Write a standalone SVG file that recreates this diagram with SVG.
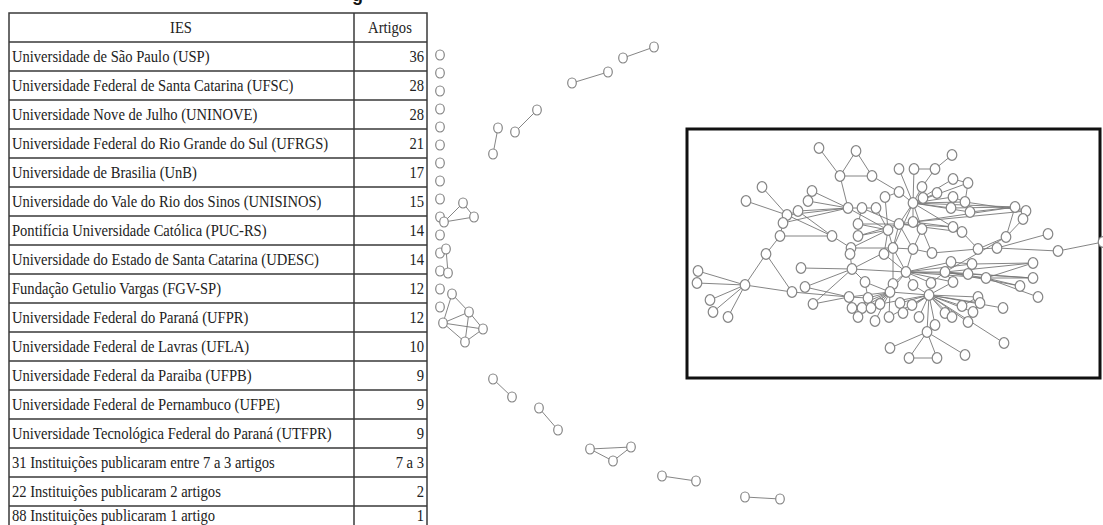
<svg xmlns="http://www.w3.org/2000/svg" xmlns:xlink="http://www.w3.org/1999/xlink" width="1103" height="525" viewBox="0 0 1103 525">
<style>
.t{font-family:"Liberation Serif","Times New Roman",serif;font-size:16.2px;fill:#222}
.r{text-anchor:end}
.c{text-anchor:middle}
.tl{stroke:#3a3a3a;stroke-width:1.5;fill:none}
.e line{stroke:#777;stroke-width:0.9}
.ttl{font-family:"Liberation Sans",Arial,sans-serif;font-weight:bold;font-size:18px;fill:#111}
</style>
<defs>
<ellipse id="nd" cx="0" cy="0" rx="4.8" ry="5.3" fill="#fff" stroke="#858585" stroke-width="1.2"/>
<ellipse id="ns" cx="0" cy="0" rx="4.3" ry="5" fill="#fff" stroke="#858585" stroke-width="1.2"/>
</defs>
<rect width="1103" height="525" fill="#fff"/>
<g id="title"><text class="ttl" x="352" y="0.5">g</text></g>
<g id="table">
<rect class="tl" x="9" y="13" width="418" height="530"/>
<line class="tl" x1="354" y1="13" x2="354" y2="525"/>
<path class="tl" d="M9 42H427M9 71H427M9 100H427M9 129H427M9 158H427M9 187H427M9 216H427M9 245H427M9 274H427M9 303H427M9 332H427M9 361H427M9 390H427M9 419H427M9 448H427M9 477H427M9 506H427"/>
<g transform="scale(0.9,1)">
<text class="t c" x="201.1" y="33">IES</text><text class="t c" x="433.3" y="33">Artigos</text>
<text class="t" x="13.3" y="62">Universidade de São Paulo (USP)</text><text class="t r" x="471.1" y="62">36</text>
<text class="t" x="13.3" y="91">Universidade Federal de Santa Catarina (UFSC)</text><text class="t r" x="471.1" y="91">28</text>
<text class="t" x="13.3" y="120">Universidade Nove de Julho (UNINOVE)</text><text class="t r" x="471.1" y="120">28</text>
<text class="t" x="13.3" y="149">Universidade Federal do Rio Grande do Sul (UFRGS)</text><text class="t r" x="471.1" y="149">21</text>
<text class="t" x="13.3" y="178">Universidade de Brasilia (UnB)</text><text class="t r" x="471.1" y="178">17</text>
<text class="t" x="13.3" y="207">Universidade do Vale do Rio dos Sinos (UNISINOS)</text><text class="t r" x="471.1" y="207">15</text>
<text class="t" x="13.3" y="236">Pontifícia Universidade Católica (PUC-RS)</text><text class="t r" x="471.1" y="236">14</text>
<text class="t" x="13.3" y="265">Universidade do Estado de Santa Catarina (UDESC)</text><text class="t r" x="471.1" y="265">14</text>
<text class="t" x="13.3" y="294">Fundação Getulio Vargas (FGV-SP)</text><text class="t r" x="471.1" y="294">12</text>
<text class="t" x="13.3" y="323">Universidade Federal do Paraná (UFPR)</text><text class="t r" x="471.1" y="323">12</text>
<text class="t" x="13.3" y="352">Universidade Federal de Lavras (UFLA)</text><text class="t r" x="471.1" y="352">10</text>
<text class="t" x="13.3" y="381">Universidade Federal da Paraiba (UFPB)</text><text class="t r" x="471.1" y="381">9</text>
<text class="t" x="13.3" y="410">Universidade Federal de Pernambuco (UFPE)</text><text class="t r" x="471.1" y="410">9</text>
<text class="t" x="13.3" y="439">Universidade Tecnológica Federal do Paraná (UTFPR)</text><text class="t r" x="471.1" y="439">9</text>
<text class="t" x="13.3" y="468">31 Instituições publicaram entre 7 a 3 artigos</text><text class="t r" x="471.1" y="468">7 a 3</text>
<text class="t" x="13.3" y="497">22 Instituições publicaram 2 artigos</text><text class="t r" x="471.1" y="497">2</text>
<text class="t" x="13.3" y="521">88 Instituições publicaram 1 artigo</text><text class="t r" x="471.1" y="521">1</text>
</g>
</g>
<g id="frame"><rect x="687" y="129" width="413" height="249" fill="none" stroke="#111" stroke-width="3"/></g>
<g id="connectors" class="e">
<line x1="498" y1="128" x2="493" y2="154"/><line x1="515" y1="132" x2="537" y2="110"/><line x1="572" y1="83" x2="608" y2="72"/><line x1="623" y1="58" x2="654" y2="47"/>
<line x1="463" y1="203" x2="444" y2="222"/><line x1="474" y1="217" x2="444" y2="222"/><line x1="463" y1="203" x2="474" y2="217"/>
<line x1="446" y1="249" x2="448" y2="273"/>
<line x1="452" y1="294" x2="443" y2="323"/><line x1="452" y1="294" x2="469" y2="312"/><line x1="443" y1="323" x2="469" y2="312"/><line x1="443" y1="323" x2="483" y2="329"/><line x1="443" y1="323" x2="465" y2="342"/><line x1="469" y1="312" x2="465" y2="342"/><line x1="469" y1="312" x2="483" y2="329"/><line x1="465" y1="342" x2="483" y2="329"/>
<line x1="493" y1="379" x2="512" y2="397"/><line x1="539" y1="408" x2="558" y2="430"/>
<line x1="590" y1="449" x2="631" y2="447"/><line x1="590" y1="449" x2="613" y2="461"/><line x1="613" y1="461" x2="631" y2="447"/>
<line x1="662" y1="476" x2="696" y2="481"/><line x1="745" y1="497" x2="780" y2="499"/>
<line x1="745" y1="285" x2="698" y2="271"/><line x1="745" y1="285" x2="697" y2="283"/><line x1="745" y1="285" x2="710" y2="300"/><line x1="745" y1="285" x2="713" y2="312"/><line x1="745" y1="285" x2="728" y2="317"/><line x1="745" y1="285" x2="766" y2="254"/><line x1="745" y1="285" x2="792" y2="292"/><line x1="766" y1="254" x2="780" y2="236"/><line x1="766" y1="254" x2="792" y2="292"/><line x1="792" y1="292" x2="849" y2="297"/>
<line x1="780" y1="236" x2="783" y2="223"/><line x1="783" y1="223" x2="787" y2="215"/><line x1="787" y1="215" x2="798" y2="211"/><line x1="780" y1="236" x2="832" y2="236"/><line x1="787" y1="215" x2="832" y2="236"/><line x1="798" y1="211" x2="832" y2="236"/><line x1="787" y1="215" x2="762" y2="187"/><line x1="787" y1="215" x2="746" y2="201"/><line x1="787" y1="215" x2="848" y2="208"/><line x1="798" y1="211" x2="848" y2="208"/><line x1="808" y1="201" x2="848" y2="208"/><line x1="812" y1="191" x2="848" y2="208"/><line x1="812" y1="191" x2="808" y2="201"/><line x1="783" y1="223" x2="848" y2="208"/>
<line x1="848" y1="208" x2="840" y2="176"/><line x1="840" y1="176" x2="819" y2="148"/><line x1="840" y1="176" x2="856" y2="151"/><line x1="840" y1="176" x2="872" y2="176"/><line x1="856" y1="151" x2="872" y2="176"/><line x1="872" y1="176" x2="899" y2="192"/><line x1="848" y1="208" x2="862" y2="208"/><line x1="862" y1="208" x2="876" y2="208"/><line x1="876" y1="208" x2="888" y2="230"/><line x1="848" y1="208" x2="888" y2="230"/><line x1="885" y1="197" x2="888" y2="230"/><line x1="885" y1="197" x2="899" y2="192"/><line x1="832" y1="236" x2="851" y2="248"/>
<line x1="801" y1="268" x2="852" y2="269"/><line x1="852" y1="269" x2="850" y2="254"/><line x1="852" y1="269" x2="893" y2="248"/><line x1="852" y1="269" x2="805" y2="287"/><line x1="852" y1="269" x2="813" y2="304"/><line x1="852" y1="269" x2="906" y2="272"/><line x1="852" y1="269" x2="865" y2="282"/><line x1="813" y1="304" x2="849" y2="297"/><line x1="805" y1="287" x2="849" y2="297"/>
<line x1="913" y1="203" x2="899" y2="169"/><line x1="913" y1="203" x2="914" y2="169"/><line x1="913" y1="203" x2="913" y2="222"/><line x1="913" y1="203" x2="922" y2="187"/><line x1="913" y1="203" x2="923" y2="198"/><line x1="913" y1="203" x2="937" y2="193"/><line x1="913" y1="203" x2="953" y2="179"/><line x1="913" y1="203" x2="968" y2="183"/><line x1="913" y1="203" x2="953" y2="197"/><line x1="913" y1="203" x2="965" y2="202"/><line x1="913" y1="203" x2="951" y2="208"/><line x1="913" y1="203" x2="970" y2="212"/><line x1="913" y1="203" x2="899" y2="224"/><line x1="913" y1="203" x2="922" y2="229"/><line x1="913" y1="203" x2="953" y2="227"/><line x1="913" y1="203" x2="1015" y2="207"/><line x1="913" y1="203" x2="893" y2="248"/><line x1="913" y1="203" x2="899" y2="192"/>
<line x1="899" y1="224" x2="858" y2="224"/><line x1="899" y1="224" x2="858" y2="236"/><line x1="899" y1="224" x2="888" y2="230"/><line x1="899" y1="224" x2="913" y2="222"/><line x1="899" y1="224" x2="893" y2="248"/><line x1="899" y1="224" x2="913" y2="249"/><line x1="899" y1="224" x2="953" y2="227"/><line x1="899" y1="224" x2="962" y2="232"/><line x1="899" y1="224" x2="862" y2="208"/>
<line x1="913" y1="222" x2="922" y2="229"/><line x1="913" y1="222" x2="953" y2="227"/><line x1="913" y1="222" x2="1015" y2="207"/><line x1="913" y1="222" x2="1026" y2="211"/><line x1="922" y1="229" x2="913" y2="249"/><line x1="922" y1="229" x2="932" y2="253"/>
<line x1="888" y1="230" x2="858" y2="224"/><line x1="888" y1="230" x2="858" y2="236"/><line x1="888" y1="230" x2="893" y2="248"/><line x1="888" y1="230" x2="884" y2="254"/><line x1="888" y1="230" x2="851" y2="248"/><line x1="858" y1="224" x2="862" y2="208"/>
<line x1="893" y1="248" x2="851" y2="248"/><line x1="893" y1="248" x2="884" y2="254"/><line x1="893" y1="248" x2="913" y2="249"/><line x1="893" y1="248" x2="906" y2="272"/><line x1="893" y1="248" x2="893" y2="284"/><line x1="913" y1="249" x2="932" y2="253"/><line x1="913" y1="249" x2="906" y2="272"/>
<line x1="932" y1="253" x2="978" y2="249"/><line x1="978" y1="249" x2="997" y2="248"/><line x1="997" y1="248" x2="1058" y2="251"/><line x1="1058" y1="251" x2="1103" y2="242"/><line x1="997" y1="248" x2="1048" y2="234"/><line x1="1006" y1="237" x2="978" y2="249"/><line x1="1006" y1="237" x2="1015" y2="207"/><line x1="1006" y1="237" x2="1023" y2="219"/><line x1="1023" y1="219" x2="1026" y2="211"/><line x1="1015" y1="207" x2="1026" y2="211"/><line x1="970" y1="212" x2="1015" y2="207"/><line x1="951" y1="208" x2="1015" y2="207"/><line x1="965" y1="202" x2="1026" y2="211"/><line x1="1006" y1="237" x2="945" y2="272"/>
<line x1="952" y1="155" x2="935" y2="169"/><line x1="935" y1="169" x2="922" y2="187"/><line x1="914" y1="169" x2="935" y2="169"/><line x1="922" y1="187" x2="923" y2="198"/><line x1="953" y1="179" x2="968" y2="183"/><line x1="968" y1="183" x2="965" y2="202"/><line x1="953" y1="197" x2="965" y2="202"/><line x1="953" y1="227" x2="962" y2="232"/><line x1="962" y1="232" x2="978" y2="249"/>
<line x1="906" y1="272" x2="945" y2="272"/><line x1="906" y1="272" x2="951" y2="262"/><line x1="906" y1="272" x2="972" y2="264"/><line x1="906" y1="272" x2="968" y2="274"/><line x1="906" y1="272" x2="986" y2="278"/><line x1="906" y1="272" x2="893" y2="284"/><line x1="906" y1="272" x2="913" y2="285"/><line x1="906" y1="272" x2="931" y2="283"/><line x1="906" y1="272" x2="890" y2="292"/><line x1="906" y1="272" x2="953" y2="282"/><line x1="906" y1="272" x2="884" y2="254"/>
<line x1="945" y1="272" x2="931" y2="283"/><line x1="945" y1="272" x2="953" y2="282"/><line x1="945" y1="272" x2="986" y2="278"/><line x1="945" y1="272" x2="1033" y2="263"/><line x1="945" y1="272" x2="1033" y2="278"/><line x1="945" y1="272" x2="1020" y2="286"/><line x1="951" y1="262" x2="972" y2="264"/><line x1="986" y1="278" x2="1033" y2="263"/><line x1="986" y1="278" x2="1033" y2="278"/><line x1="986" y1="278" x2="1020" y2="286"/><line x1="986" y1="278" x2="1038" y2="297"/><line x1="972" y1="264" x2="1033" y2="263"/><line x1="968" y1="274" x2="1033" y2="278"/>
<line x1="929" y1="295" x2="913" y2="285"/><line x1="929" y1="295" x2="931" y2="283"/><line x1="929" y1="295" x2="953" y2="282"/><line x1="929" y1="295" x2="890" y2="292"/><line x1="929" y1="295" x2="900" y2="303"/><line x1="929" y1="295" x2="912" y2="305"/><line x1="929" y1="295" x2="903" y2="313"/><line x1="929" y1="295" x2="919" y2="317"/><line x1="929" y1="295" x2="935" y2="325"/><line x1="929" y1="295" x2="945" y2="313"/><line x1="929" y1="295" x2="952" y2="317"/><line x1="929" y1="295" x2="962" y2="306"/><line x1="929" y1="295" x2="978" y2="297"/><line x1="929" y1="295" x2="980" y2="303"/><line x1="929" y1="295" x2="973" y2="312"/><line x1="929" y1="295" x2="968" y2="322"/><line x1="929" y1="295" x2="1003" y2="308"/><line x1="929" y1="295" x2="927" y2="332"/><line x1="929" y1="295" x2="1004" y2="343"/><line x1="929" y1="295" x2="889" y2="317"/><line x1="929" y1="295" x2="880" y2="304"/>
<line x1="890" y1="292" x2="865" y2="282"/><line x1="890" y1="292" x2="868" y2="298"/><line x1="890" y1="292" x2="849" y2="297"/><line x1="890" y1="292" x2="852" y2="308"/><line x1="890" y1="292" x2="862" y2="308"/><line x1="890" y1="292" x2="871" y2="308"/><line x1="890" y1="292" x2="880" y2="304"/><line x1="890" y1="292" x2="858" y2="317"/><line x1="890" y1="292" x2="875" y2="321"/><line x1="890" y1="292" x2="889" y2="317"/><line x1="890" y1="292" x2="893" y2="284"/>
<line x1="865" y1="282" x2="868" y2="298"/><line x1="849" y1="297" x2="868" y2="298"/><line x1="849" y1="297" x2="852" y2="308"/><line x1="868" y1="298" x2="862" y2="308"/>
<line x1="927" y1="332" x2="890" y2="348"/><line x1="927" y1="332" x2="909" y2="358"/><line x1="927" y1="332" x2="937" y2="358"/><line x1="909" y1="358" x2="937" y2="358"/><line x1="927" y1="332" x2="965" y2="355"/>
<line x1="962" y1="306" x2="978" y2="297"/><line x1="978" y1="297" x2="980" y2="303"/><line x1="980" y1="303" x2="973" y2="312"/>
</g>
<g id="nodes-isolated">
<g id="i1"><use href="#ns" x="440" y="55"/></g><g id="i2"><use href="#ns" x="440" y="73"/></g><g id="i3"><use href="#ns" x="440" y="91"/></g><g id="i4"><use href="#ns" x="440" y="109"/></g><g id="i5"><use href="#ns" x="440" y="127"/></g><g id="i6"><use href="#ns" x="440" y="145"/></g><g id="i7"><use href="#ns" x="440" y="163"/></g><g id="i8"><use href="#ns" x="440" y="181"/></g><g id="i9"><use href="#ns" x="440" y="199"/></g><g id="i10"><use href="#ns" x="440" y="217"/></g><g id="i11"><use href="#ns" x="440" y="235"/></g><g id="i12"><use href="#ns" x="440" y="253"/></g><g id="i13"><use href="#ns" x="440" y="271"/></g><g id="i14"><use href="#ns" x="440" y="289"/></g><g id="i15"><use href="#ns" x="440" y="307"/></g>
</g>
<g id="nodes-small">
<g id="s1"><use href="#ns" x="498" y="128"/></g><g id="s2"><use href="#ns" x="493" y="154"/></g><g id="s3"><use href="#ns" x="515" y="132"/></g><g id="s4"><use href="#ns" x="537" y="110"/></g><g id="s5"><use href="#ns" x="572" y="83"/></g><g id="s6"><use href="#ns" x="608" y="72"/></g><g id="s7"><use href="#ns" x="623" y="58"/></g><g id="s8"><use href="#ns" x="654" y="47"/></g>
<g id="s9"><use href="#ns" x="463" y="203"/></g><g id="s10"><use href="#ns" x="474" y="217"/></g><g id="s11"><use href="#ns" x="444" y="222"/></g><g id="s12"><use href="#ns" x="446" y="249"/></g><g id="s13"><use href="#ns" x="448" y="273"/></g>
<g id="s14"><use href="#ns" x="452" y="294"/></g><g id="s15"><use href="#ns" x="469" y="312"/></g><g id="s16"><use href="#ns" x="443" y="323"/></g><g id="s17"><use href="#ns" x="483" y="329"/></g><g id="s18"><use href="#ns" x="465" y="342"/></g>
<g id="s19"><use href="#ns" x="493" y="379"/></g><g id="s20"><use href="#ns" x="512" y="397"/></g><g id="s21"><use href="#ns" x="539" y="408"/></g><g id="s22"><use href="#ns" x="558" y="430"/></g><g id="s23"><use href="#ns" x="590" y="449"/></g><g id="s24"><use href="#ns" x="631" y="447"/></g><g id="s25"><use href="#ns" x="613" y="461"/></g><g id="s26"><use href="#ns" x="662" y="476"/></g><g id="s27"><use href="#ns" x="696" y="481"/></g><g id="s28"><use href="#ns" x="745" y="497"/></g><g id="s29"><use href="#ns" x="780" y="499"/></g>
</g>
<g id="nodes-main">
<g id="n1"><use href="#nd" x="819" y="148"/></g><g id="n2"><use href="#nd" x="856" y="151"/></g><g id="n3"><use href="#nd" x="840" y="176"/></g><g id="n4"><use href="#nd" x="872" y="176"/></g><g id="n5"><use href="#nd" x="952" y="155"/></g><g id="n6"><use href="#nd" x="899" y="169"/></g><g id="n7"><use href="#nd" x="914" y="169"/></g><g id="n8"><use href="#nd" x="935" y="169"/></g><g id="n9"><use href="#nd" x="762" y="187"/></g><g id="n10"><use href="#nd" x="746" y="201"/></g>
<g id="n11"><use href="#nd" x="812" y="191"/></g><g id="n12"><use href="#nd" x="808" y="201"/></g><g id="n13"><use href="#nd" x="798" y="211"/></g><g id="n14"><use href="#nd" x="787" y="215"/></g><g id="n15"><use href="#nd" x="783" y="223"/></g><g id="n16"><use href="#nd" x="780" y="236"/></g><g id="n17"><use href="#nd" x="848" y="208"/></g><g id="n18"><use href="#nd" x="862" y="208"/></g><g id="n19"><use href="#nd" x="876" y="208"/></g><g id="n20"><use href="#nd" x="885" y="197"/></g>
<g id="n21"><use href="#nd" x="899" y="192"/></g><g id="n22"><use href="#nd" x="922" y="187"/></g><g id="n23"><use href="#nd" x="923" y="198"/></g><g id="n24"><use href="#nd" x="937" y="193"/></g><g id="n25"><use href="#nd" x="953" y="179"/></g><g id="n26"><use href="#nd" x="968" y="183"/></g><g id="n27"><use href="#nd" x="953" y="197"/></g><g id="n28"><use href="#nd" x="965" y="202"/></g><g id="n29"><use href="#nd" x="913" y="203"/></g><g id="n30"><use href="#nd" x="951" y="208"/></g>
<g id="n31"><use href="#nd" x="970" y="212"/></g><g id="n32"><use href="#nd" x="1015" y="207"/></g><g id="n33"><use href="#nd" x="1026" y="211"/></g><g id="n34"><use href="#nd" x="1023" y="219"/></g><g id="n35"><use href="#nd" x="858" y="224"/></g><g id="n36"><use href="#nd" x="832" y="236"/></g><g id="n37"><use href="#nd" x="858" y="236"/></g><g id="n38"><use href="#nd" x="888" y="230"/></g><g id="n39"><use href="#nd" x="899" y="224"/></g><g id="n40"><use href="#nd" x="913" y="222"/></g>
<g id="n41"><use href="#nd" x="922" y="229"/></g><g id="n42"><use href="#nd" x="953" y="227"/></g><g id="n43"><use href="#nd" x="962" y="232"/></g><g id="n44"><use href="#nd" x="1006" y="237"/></g><g id="n45"><use href="#nd" x="1048" y="234"/></g><g id="n46"><use href="#nd" x="766" y="254"/></g><g id="n47"><use href="#nd" x="851" y="248"/></g><g id="n48"><use href="#nd" x="850" y="254"/></g><g id="n49"><use href="#nd" x="893" y="248"/></g><g id="n50"><use href="#nd" x="884" y="254"/></g>
<g id="n51"><use href="#nd" x="913" y="249"/></g><g id="n52"><use href="#nd" x="932" y="253"/></g><g id="n53"><use href="#nd" x="978" y="249"/></g><g id="n54"><use href="#nd" x="997" y="248"/></g><g id="n55"><use href="#nd" x="1058" y="251"/></g><g id="n56"><use href="#nd" x="1103" y="242"/></g><g id="n57"><use href="#nd" x="698" y="271"/></g><g id="n58"><use href="#nd" x="697" y="283"/></g><g id="n59"><use href="#nd" x="745" y="285"/></g><g id="n60"><use href="#nd" x="801" y="268"/></g>
<g id="n61"><use href="#nd" x="852" y="269"/></g><g id="n62"><use href="#nd" x="906" y="272"/></g><g id="n63"><use href="#nd" x="945" y="272"/></g><g id="n64"><use href="#nd" x="951" y="262"/></g><g id="n65"><use href="#nd" x="972" y="264"/></g><g id="n66"><use href="#nd" x="968" y="274"/></g><g id="n67"><use href="#nd" x="986" y="278"/></g><g id="n68"><use href="#nd" x="1033" y="263"/></g><g id="n69"><use href="#nd" x="1033" y="278"/></g><g id="n70"><use href="#nd" x="1020" y="286"/></g>
<g id="n71"><use href="#nd" x="1038" y="297"/></g><g id="n72"><use href="#nd" x="865" y="282"/></g><g id="n73"><use href="#nd" x="893" y="284"/></g><g id="n74"><use href="#nd" x="913" y="285"/></g><g id="n75"><use href="#nd" x="931" y="283"/></g><g id="n76"><use href="#nd" x="953" y="282"/></g><g id="n77"><use href="#nd" x="792" y="292"/></g><g id="n78"><use href="#nd" x="805" y="287"/></g><g id="n79"><use href="#nd" x="710" y="300"/></g><g id="n80"><use href="#nd" x="713" y="312"/></g>
<g id="n81"><use href="#nd" x="728" y="317"/></g><g id="n82"><use href="#nd" x="813" y="304"/></g><g id="n83"><use href="#nd" x="849" y="297"/></g><g id="n84"><use href="#nd" x="868" y="298"/></g><g id="n85"><use href="#nd" x="890" y="292"/></g><g id="n86"><use href="#nd" x="929" y="295"/></g><g id="n87"><use href="#nd" x="852" y="308"/></g><g id="n88"><use href="#nd" x="862" y="308"/></g><g id="n89"><use href="#nd" x="871" y="308"/></g><g id="n90"><use href="#nd" x="880" y="304"/></g>
<g id="n91"><use href="#nd" x="900" y="303"/></g><g id="n92"><use href="#nd" x="912" y="305"/></g><g id="n93"><use href="#nd" x="858" y="317"/></g><g id="n94"><use href="#nd" x="875" y="321"/></g><g id="n95"><use href="#nd" x="889" y="317"/></g><g id="n96"><use href="#nd" x="903" y="313"/></g><g id="n97"><use href="#nd" x="919" y="317"/></g><g id="n98"><use href="#nd" x="935" y="325"/></g><g id="n99"><use href="#nd" x="945" y="313"/></g><g id="n100"><use href="#nd" x="952" y="317"/></g>
<g id="n101"><use href="#nd" x="962" y="306"/></g><g id="n102"><use href="#nd" x="978" y="297"/></g><g id="n103"><use href="#nd" x="980" y="303"/></g><g id="n104"><use href="#nd" x="973" y="312"/></g><g id="n105"><use href="#nd" x="968" y="322"/></g><g id="n106"><use href="#nd" x="1003" y="308"/></g><g id="n107"><use href="#nd" x="927" y="332"/></g><g id="n108"><use href="#nd" x="1004" y="343"/></g><g id="n109"><use href="#nd" x="890" y="348"/></g><g id="n110"><use href="#nd" x="909" y="358"/></g>
<g id="n111"><use href="#nd" x="937" y="358"/></g><g id="n112"><use href="#nd" x="965" y="355"/></g>
</g>
</svg>
